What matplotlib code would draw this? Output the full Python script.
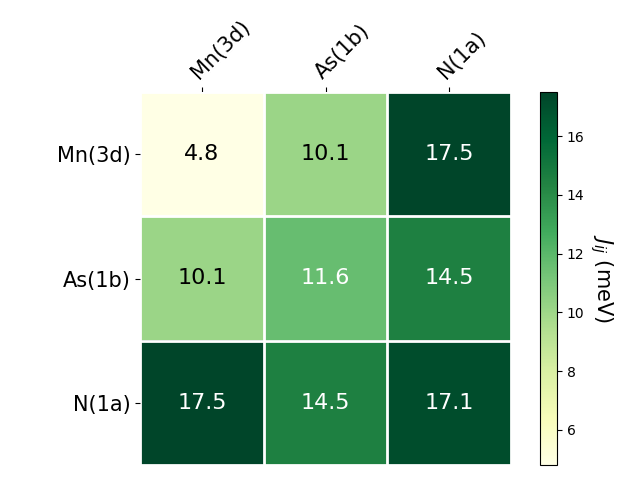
import numpy as np
import matplotlib.pyplot as plt

sites = ['Mn(3d)', 'As(1b)', 'N(1a)']
J = np.array([[4.8, 10.1, 17.5],
              [10.1, 11.6, 14.5],
              [17.5, 14.5, 17.1]])

fig = plt.figure(figsize=(6.4, 4.8), dpi=100)
ax = fig.add_axes([140 / 640, 15 / 480, 371 / 640, 373 / 480])
cax = fig.add_axes([540 / 640, 15 / 480, 17 / 640, 373 / 480])

im = ax.imshow(J, cmap='YlGn', vmin=J.min(), vmax=J.max(), aspect='auto')
cb = fig.colorbar(im, cax=cax)
cb.set_label('$J_{ij}$ (meV)', rotation=270, fontsize=15, labelpad=22)

ax.set_xticks(np.arange(len(sites)))
ax.set_yticks(np.arange(len(sites)))
ax.set_xticklabels(sites, fontsize=15)
ax.set_yticklabels(sites, fontsize=15)
ax.tick_params(top=True, bottom=False, labeltop=True, labelbottom=False)
plt.setp(ax.get_xticklabels(), rotation=45, ha='left', rotation_mode='anchor')

for s in ax.spines.values():
    s.set_visible(False)
ax.set_xticks(np.arange(len(sites) + 1) - .5, minor=True)
ax.set_yticks(np.arange(len(sites) + 1) - .5, minor=True)
ax.grid(which='minor', color='w', linestyle='-', linewidth=2)
ax.tick_params(which='minor', bottom=False, left=False, top=False)

for i in range(len(sites)):
    for j in range(len(sites)):
        c = 'w' if J[i, j] > 11 else 'k'
        ax.text(j, i, '{:.1f}'.format(J[i, j]), ha='center', va='center',
                color=c, fontsize=16)

plt.savefig('out.png')
